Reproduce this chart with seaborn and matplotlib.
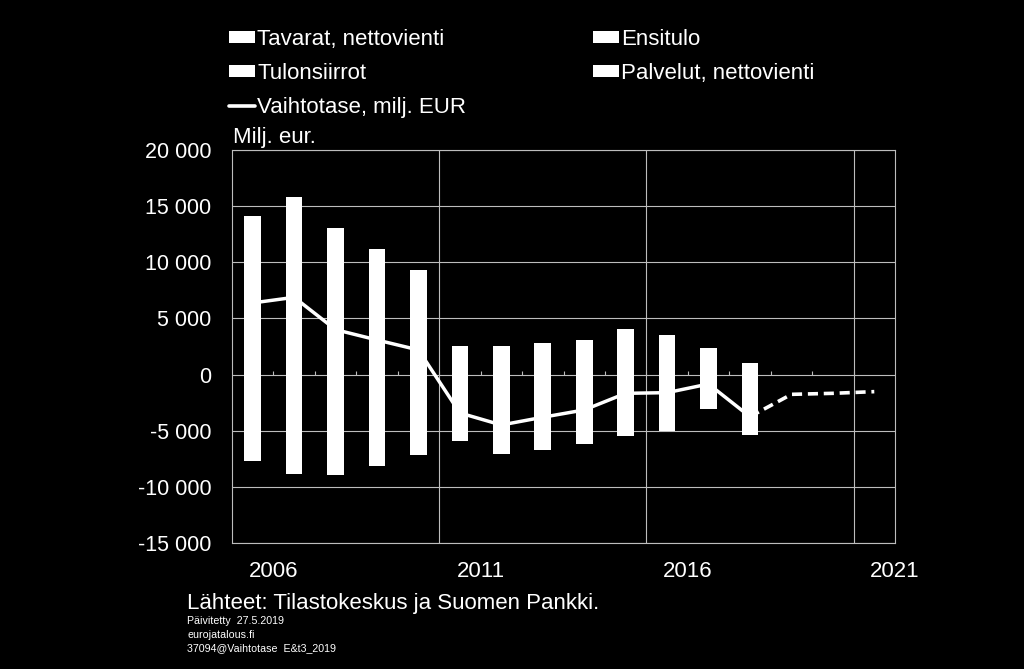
import numpy as np
import pandas as pd
import matplotlib
matplotlib.use("Agg")
import matplotlib.pyplot as plt
from matplotlib.patches import Patch
from matplotlib.lines import Line2D
import seaborn as sns

# Vaihtotaseen erät, milj. EUR (luettu kuvasta)
years = list(range(2006, 2019))
tavarat = [10500, 11000, 9000, 5200, 4800, -1400, -1600, 1000, 1350, 1500, 600, 1600, -300]
ensitulo = [3650, 4840, 4030, 5960, 4490, 2570, 2570, 1790, 1700, 2530, 2900, -700, -2700]
tulonsiirrot = [-1790, -1980, -2140, -2110, -2160, -2140, -2200, -2310, -2310, -2370, -2400, -2360, -2380]
palvelut = [-5900, -6900, -6800, -6000, -5000, -2400, -3300, -4400, -3900, -3100, -2650, 770, 1000]
vaihtotase = [6380, 6880, 4000, 3080, 2190, -3420, -4490, -3800, -3150, -1670, -1610, -840, -3750]

# Ennuste
fc_years = [2018, 2019, 2020, 2021]
ennuste = [-3750, -1760, -1670, -1520]

xtick_labels = ["2006", "2011", "2016", "2021"]

comp = pd.DataFrame({
    "Tavarat, nettovienti": tavarat,
    "Ensitulo": ensitulo,
    "Tulonsiirrot": tulonsiirrot,
    "Palvelut, nettovienti": palvelut,
}, index=years)

sns.set_theme(style="dark")
plt.rcParams["font.family"] = ["Liberation Sans", "DejaVu Sans"]

fig = plt.figure(figsize=(10.24, 6.69), dpi=100, facecolor="black")
ax = fig.add_axes([232 / 1024, 1 - 543 / 669, 663 / 1024, 393 / 669])
ax.set_facecolor("black")

# pinotut pylväät: positiiviset ylös, negatiiviset alas
pos = comp.clip(lower=0).cumsum(axis=1)
neg = comp.clip(upper=0).cumsum(axis=1)
for name in reversed(comp.columns):
    for part in (pos, neg):
        sns.barplot(x=years, y=part[name].values, native_scale=True, color="white",
                    saturation=1, width=0.4, errorbar=None, linewidth=0,
                    edgecolor="none", ax=ax, zorder=3)

sns.lineplot(x=years, y=vaihtotase, color="white", linewidth=2.5, ax=ax, zorder=4)
sns.lineplot(x=fc_years, y=ennuste, color="white", linewidth=2.6,
             linestyle=(0, (2.8, 1.6)), ax=ax, zorder=4)

ax.set_xlim(2005.5, 2021.5)
ax.set_ylim(-15000, 20000)
ax.set_yticks(np.arange(-15000, 20001, 5000))
ax.set_yticklabels([f"{v:,}".replace(",", " ") for v in range(-15000, 20001, 5000)])
ax.set_xticks([2006.5, 2011.5, 2016.5, 2021.5])
ax.set_xticklabels(xtick_labels)
ax.set_xticks([2010.5, 2015.5, 2020.5], minor=True)
ax.tick_params(axis="both", which="both", length=0, colors="white", labelsize=16)
ax.tick_params(axis="y", labelsize=15.5, pad=15)
ax.tick_params(axis="x", pad=13)
ax.set_xlabel("")
ax.set_ylabel("")

ax.grid(False)
ax.grid(axis="y", which="major", color="#bdbdbd", linewidth=0.8, zorder=1)
ax.grid(axis="x", which="minor", color="#bdbdbd", linewidth=0.8, zorder=1)
ax.vlines(np.arange(2006.5, 2021, 1), 0, 350, color="#bdbdbd", linewidth=0.8, zorder=2)
for s in ax.spines.values():
    s.set_visible(True)
    s.set_color("#bdbdbd")
    s.set_linewidth(0.8)

handles = [
    Patch(facecolor="white", edgecolor="none"),
    Patch(facecolor="white", edgecolor="none"),
    Line2D([], [], color="white", linewidth=2.6),
    Patch(facecolor="white", edgecolor="none"),
    Patch(facecolor="white", edgecolor="none"),
]
labels = ["Tavarat, nettovienti", "Tulonsiirrot", "Vaihtotase, milj. EUR",
          "Ensitulo", "Palvelut, nettovienti"]
leg = fig.legend(handles, labels, ncol=2, loc="upper left",
                 bbox_to_anchor=(209 / 1024, 1 - 9 / 669), frameon=False,
                 fontsize=16, handlelength=1.17, handleheight=0.45,
                 handletextpad=0.1, labelspacing=0.59, columnspacing=5.7)
for t in leg.get_texts():
    t.set_color("white")

fig.text(233 / 1024, 1 - 138 / 669, "Milj. eur.", color="white", fontsize=16,
         va="center", ha="left")

fig.text(187 / 1024, 1 - 604 / 669, "Lähteet: Tilastokeskus ja Suomen Pankki.",
         color="white", fontsize=16, va="center", ha="left")
fig.text(187 / 1024, 1 - 621 / 669, "Päivitetty  27.5.2019", color="white",
         fontsize=7.7, va="center", ha="left")
fig.text(187 / 1024, 1 - 635 / 669, "eurojatalous.fi", color="white",
         fontsize=7.7, va="center", ha="left")
fig.text(187 / 1024, 1 - 648 / 669, "37094@Vaihtotase  E&t3_2019", color="white",
         fontsize=7.7, va="center", ha="left")

fig.savefig("out.png", dpi=100, facecolor="black")
